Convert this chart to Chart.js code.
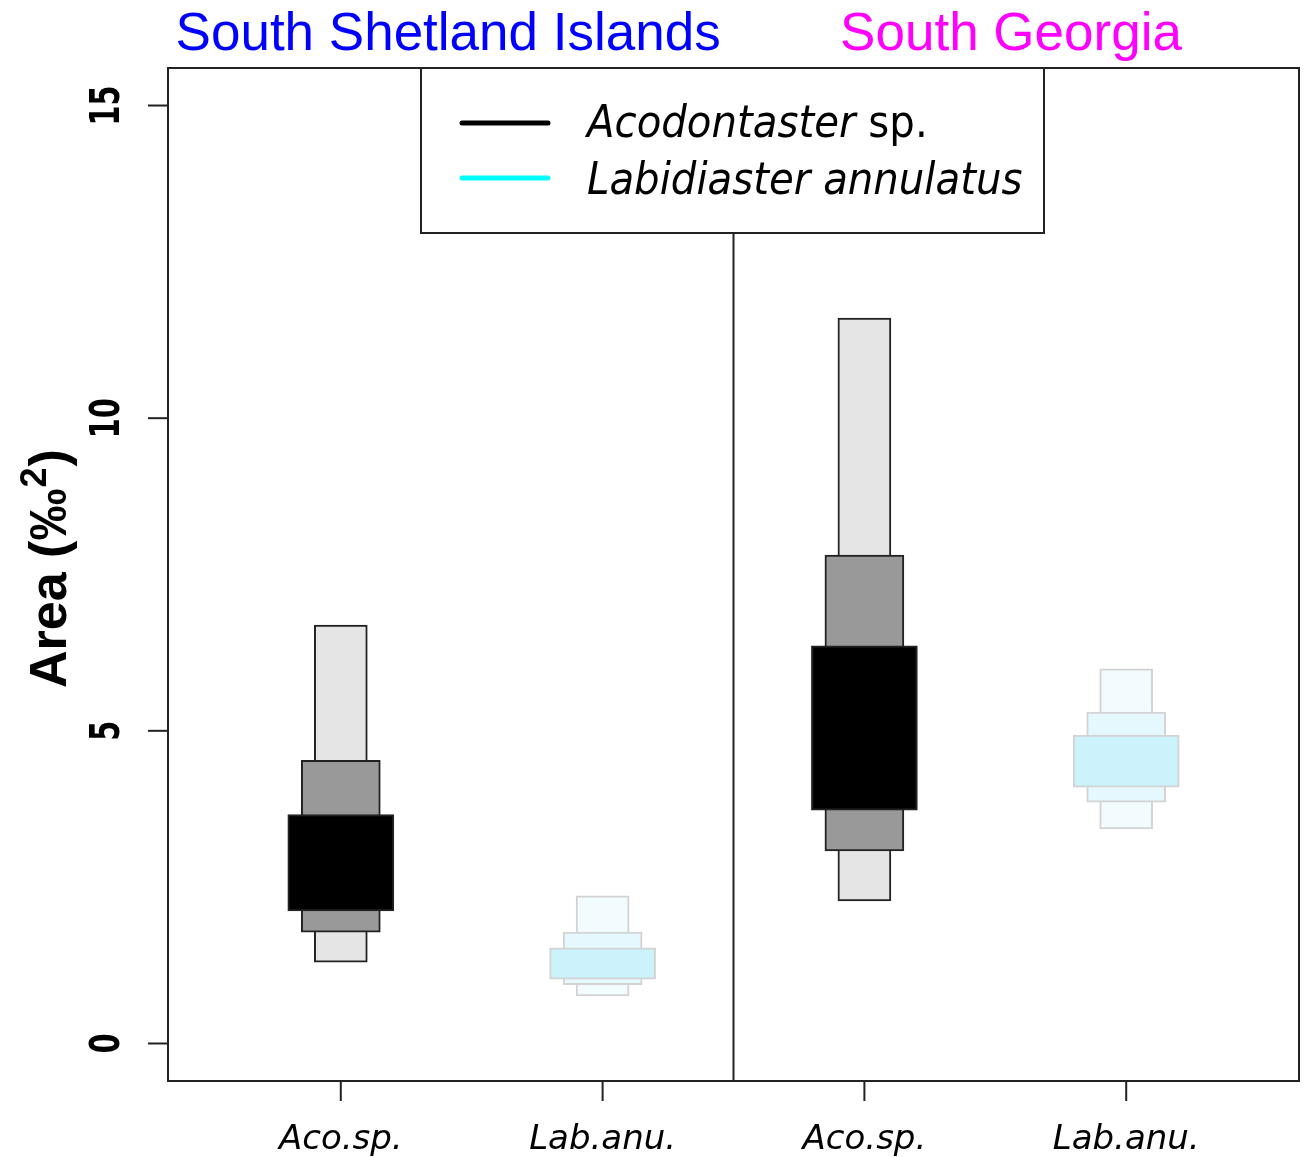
<!DOCTYPE html>
<html lang="en">
<head>
  <meta charset="UTF-8">
  <title>Ellipse area by site</title>
  <script src="https://cdn.jsdelivr.net/npm/chart.js"></script>
  <style>
    html, body { margin: 0; padding: 0; background: #fff; }
    #wrap { width: 1308px; height: 1157px; }
  </style>
</head>
<body>
<div id="wrap"><canvas id="myChart" width="1308" height="1157"></canvas></div>
<script>
  // groups along the x axis
  const groupLabels = ['Aco.sp.', 'Lab.anu.', 'Aco.sp.', 'Lab.anu.'];
  const groupPos = [1, 2, 3, 4];
  const siteNames = ['South Shetland Islands', 'South Georgia'];
  const yTicks = [0, 5, 10, 15];

  // credible intervals of the area (low / high)
  const low95 = [1.30, 0.76, 2.28, 3.43];
  const high95 = [6.69, 2.36, 11.60, 5.99];
  const low75 = [1.78, 0.94, 3.08, 3.86];
  const high75 = [4.53, 1.78, 7.81, 5.30];
  const low50 = [2.12, 1.03, 3.73, 4.10];
  const high50 = [3.66, 1.53, 6.36, 4.93];

  const acoCols = ['#000000', '#999999', '#e5e5e5'];
  const labCols = ['#ccf2fb', '#e5f8fd', '#f2fbfe'];

  function pts(lo, hi) {
    return groupPos.map((x, i) => ({ x: x, y: [lo[i], hi[i]] }));
  }
  function cols(k) {
    return groupPos.map((x, i) => i % 2 === 0 ? acoCols[k] : labCols[k]);
  }
  const borders = groupPos.map((x, i) => i % 2 === 0 ? '#222222' : '#d3d3d3');

  // first dataset is drawn on top
  const datasets = [
    { label: '50%', data: pts(low50, high50), backgroundColor: cols(0), barThickness: 106 },
    { label: '75%', data: pts(low75, high75), backgroundColor: cols(1), barThickness: 79 },
    { label: '95%', data: pts(low95, high95), backgroundColor: cols(2), barThickness: 53 }
  ].map(d => Object.assign(d, { borderColor: borders, borderWidth: 2, borderSkipped: false, grouped: false }));

  const overlay = {
    id: 'overlay',
    afterDraw(chart) {
      const ctx = chart.ctx;
      const a = chart.chartArea;
      const xs = chart.scales.x, ys = chart.scales.y;
      ctx.save();
      ctx.strokeStyle = '#222';
      ctx.lineWidth = 2;

      // divider between sites
      const xd = xs.getPixelForValue(2.5);
      ctx.beginPath(); ctx.moveTo(xd, a.top + 165); ctx.lineTo(xd, a.bottom); ctx.stroke();

      // box
      ctx.strokeRect(a.left, a.top, a.right - a.left, a.bottom - a.top);

      // legend
      const lx = a.left + 253, lw = 623, lh = 165;
      ctx.fillStyle = '#fff';
      ctx.fillRect(lx, a.top, lw, lh);
      ctx.strokeRect(lx, a.top, lw, lh);
      ctx.lineCap = 'round';
      ctx.lineWidth = 5;
      ctx.strokeStyle = '#000';
      ctx.beginPath(); ctx.moveTo(lx + 41, a.top + 55); ctx.lineTo(lx + 127, a.top + 55); ctx.stroke();
      ctx.strokeStyle = '#00ffff';
      ctx.beginPath(); ctx.moveTo(lx + 41, a.top + 110); ctx.lineTo(lx + 127, a.top + 110); ctx.stroke();
      ctx.lineCap = 'butt';
      ctx.fillStyle = '#000';
      ctx.textAlign = 'left';
      ctx.textBaseline = 'alphabetic';
      ctx.save();
      ctx.translate(lx + 166, 0);
      ctx.scale(0.915, 1);
      ctx.font = 'italic 44px "DejaVu Sans"';
      ctx.fillText('Acodontaster', 0, a.top + 69);
      const w1 = ctx.measureText('Acodontaster ').width;
      ctx.font = '44px "DejaVu Sans"';
      ctx.fillText('sp.', w1, a.top + 69);
      ctx.font = 'italic 44px "DejaVu Sans"';
      ctx.fillText('Labidiaster annulatus', 0, a.top + 126);
      ctx.restore();

      // x ticks and labels
      ctx.lineWidth = 2;
      ctx.strokeStyle = '#222';
      ctx.font = 'italic 34px "DejaVu Sans"';
      ctx.textAlign = 'center';
      groupPos.forEach((g, i) => {
        const px = xs.getPixelForValue(g);
        ctx.beginPath(); ctx.moveTo(px, a.bottom); ctx.lineTo(px, a.bottom + 20); ctx.stroke();
        ctx.fillText(groupLabels[i], px, a.bottom + 68);
      });

      // y ticks and rotated labels
      yTicks.forEach(t => {
        const py = ys.getPixelForValue(t);
        ctx.beginPath(); ctx.moveTo(a.left - 20, py); ctx.lineTo(a.left, py); ctx.stroke();
        ctx.save();
        ctx.translate(a.left - 49, py);
        ctx.rotate(-Math.PI / 2);
        ctx.scale(0.72, 1);
        ctx.font = 'bold 40px "DejaVu Sans"';
        ctx.textAlign = 'center';
        ctx.fillText(String(t), 0, 0);
        ctx.restore();
      });

      // y axis title with superscript
      ctx.save();
      ctx.translate(66, 688);
      ctx.rotate(-Math.PI / 2);
      ctx.textAlign = 'left';
      ctx.font = 'bold 52px "Liberation Sans"';
      const main = 'Area (\u2030';
      ctx.fillText(main, 0, 0);
      let w = ctx.measureText(main).width;
      ctx.font = 'bold 36px "Liberation Sans"';
      ctx.fillText('2', w + 1, -20);
      w += ctx.measureText('2').width + 2;
      ctx.font = 'bold 52px "Liberation Sans"';
      ctx.fillText(')', w, 0);
      ctx.restore();

      // site titles
      ctx.font = '53px "Liberation Sans"';
      ctx.textAlign = 'center';
      ctx.fillStyle = '#0000ff';
      ctx.fillText(siteNames[0], xs.getPixelForValue(1.41), 50);
      ctx.fillStyle = '#ff00ff';
      ctx.fillText(siteNames[1], xs.getPixelForValue(3.56), 50);
      ctx.restore();
    }
  };

  new Chart(document.getElementById('myChart'), {
    type: 'bar',
    data: { datasets: datasets },
    options: {
      responsive: false,
      animation: false,
      devicePixelRatio: 1,
      layout: { padding: { left: 168, top: 68, right: 9, bottom: 76 } },
      scales: {
        x: { type: 'linear', min: 0.34, max: 4.66, offset: false, display: false },
        y: { min: -0.6, max: 15.6, display: false }
      },
      plugins: { legend: { display: false }, tooltip: { enabled: false } }
    },
    plugins: [overlay]
  });
</script>
</body>
</html>
